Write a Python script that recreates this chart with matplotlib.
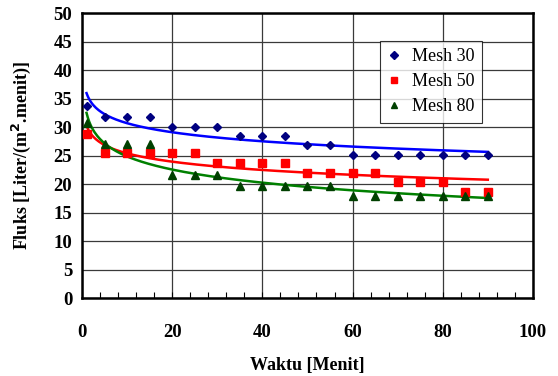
import numpy as np
import matplotlib
matplotlib.use("Agg")
import matplotlib.pyplot as plt
from matplotlib.ticker import MultipleLocator

# =====================================================================
# DATA
# =====================================================================
waktu = [1, 5, 10, 15, 20, 25, 30, 35, 40, 45, 50, 55, 60, 65, 70, 75, 80, 85, 90]
mesh30 = [33.7, 31.8, 31.8, 31.8, 30.1, 30.1, 30.1, 28.4, 28.4, 28.4,
          26.8, 26.8, 25.1, 25.1, 25.1, 25.1, 25.1, 25.1, 25.1]
mesh50 = [28.9, 25.5, 25.5, 25.5, 25.5, 25.5, 23.7, 23.7, 23.7, 23.7,
          22.0, 22.0, 22.0, 22.0, 20.3, 20.3, 20.3, 18.6, 18.6]
mesh80 = [30.8, 27.1, 27.1, 27.1, 21.6, 21.6, 21.6, 19.7, 19.7, 19.7,
          19.7, 19.7, 17.9, 17.9, 17.9, 17.9, 17.9, 17.9, 17.9]
series_labels = ["Mesh 30", "Mesh 50", "Mesh 80"]

# =====================================================================
# PLOT
# =====================================================================
plt.rcParams['font.family'] = ['Liberation Serif', 'DejaVu Serif']

fig = plt.figure(figsize=(5.58, 3.76), dpi=100)
ax = fig.add_axes([0.147, 0.2074, 0.808, 0.757])

x = np.array(waktu, dtype=float)
xfit = np.linspace(1, 90, 300)

styles = [
    (mesh30, 'D', '#000080', 4.5, '#0000FF'),
    (mesh50, 's', '#FF0000', 5.5, '#FF0000'),
    (mesh80, '^', '#004000', 6.0, '#008000'),
]

# logarithmic trendlines (least squares on ln x)
for vals, _, _, _, lcol in styles:
    a, b = np.polyfit(np.log(x), np.array(vals), 1)
    ax.plot(xfit, a * np.log(xfit) + b, color=lcol, lw=1.8, zorder=3)

for (vals, mk, mcol, ms, _), lab in zip(styles, series_labels):
    ax.plot(waktu, vals, linestyle='none', marker=mk, color=mcol,
            markersize=ms, label=lab, zorder=4, clip_on=False)

ax.set_xlim(0, 100)
ax.set_ylim(0, 50)
ax.xaxis.set_major_locator(MultipleLocator(20))
ax.xaxis.set_minor_locator(MultipleLocator(4))
ax.yaxis.set_major_locator(MultipleLocator(5))

ax.grid(True, which='major', color='#3a3a3a', lw=0.9, zorder=0)
ax.set_axisbelow(True)

for sp in ax.spines.values():
    sp.set_linewidth(1.8)
    sp.set_color('black')

ax.tick_params(axis='x', which='both', direction='in', length=4, width=0.8,
               pad=19, labelsize=13.5)
ax.tick_params(axis='y', which='both', length=0, pad=7, labelsize=13.5)
for lbl in ax.get_xticklabels() + ax.get_yticklabels():
    lbl.set_fontweight('bold')

ax.set_xlabel("Waktu [Menit]", fontsize=13, fontweight='bold', labelpad=11)
ax.set_ylabel(r"Fluks [Liter/(m$^\mathbf{2}$.menit)]", fontsize=13,
              fontweight='bold', labelpad=15)

leg = ax.legend(loc='upper left', bbox_to_anchor=(0.64, 0.935), fontsize=13,
                frameon=True, fancybox=False, edgecolor='black',
                handlelength=0.8, handletextpad=0.6, borderpad=0.4,
                labelspacing=0.45, markerscale=0.8)
leg.get_frame().set_linewidth(0.8)

fig.savefig("out.png", dpi=100)
